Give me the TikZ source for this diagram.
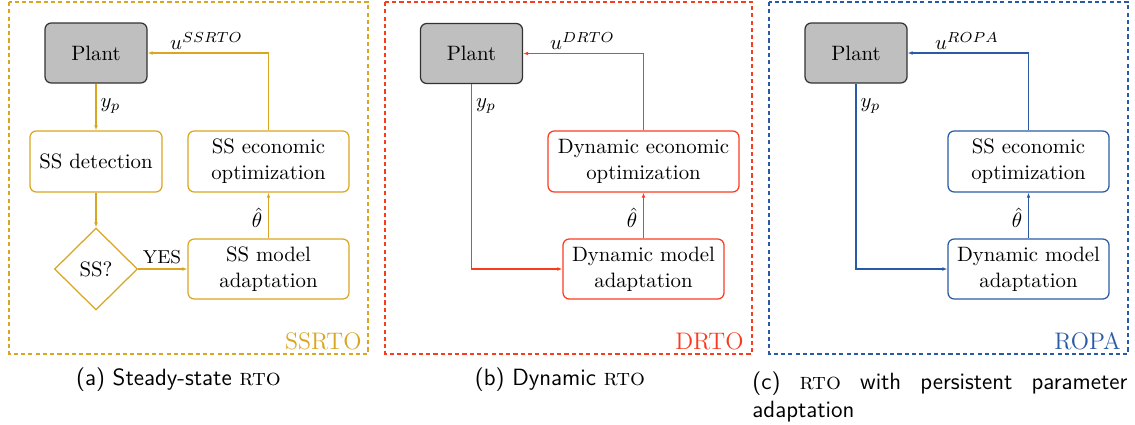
\documentclass[tikz,border=0pt]{standalone}
\usetikzlibrary{shapes.geometric,arrows.meta}
\definecolor{ssorange}{RGB}{218,165,32}
\definecolor{drred}{RGB}{250,60,30}
\definecolor{ropablue}{RGB}{40,90,165}
\begin{document}
\begin{tikzpicture}[x=0.4808pt,y=-0.4808pt,
  box/.style={draw, rounded corners=3pt, line width=0.6pt, align=center, inner sep=0pt,
              font=\fontsize{10}{12.5}\selectfont},
  plant/.style={draw=black!80, fill=black!25, rounded corners=3pt, line width=0.6pt,
                minimum width=49.04pt, minimum height=28.85pt, inner sep=0pt,
                font=\fontsize{10}{12}\selectfont},
  flow/.style={line width=0.6pt, -{Latex[length=2.4pt,width=1.8pt]}},
  frame/.style={line width=0.6pt, dash pattern=on 2pt off 1.5pt},
  tag/.style={font=\fontsize{11.5}{13}\selectfont, anchor=base east, inner sep=0pt},
  lbl/.style={inner sep=0pt, font=\fontsize{10}{12}\selectfont},
  subcap/.style={font=\sffamily\fontsize{11.3}{13.5}\selectfont, inner sep=0pt},
]
\useasboundingbox (0,0) rectangle (1135,424);

% ---------------- (a) steady-state RTO ----------------
\begin{scope}[color=ssorange]
  \draw[frame] (9,2) rectangle (368,354);
  \node[plant, text=black] (plant1) at (96,53) {Plant};
  \node[box, text=black, minimum width=63.47pt, minimum height=29.33pt] (det1) at (96,161.5) {SS detection};
  \node[box, text=black, minimum width=77.41pt, minimum height=29.33pt] (opt1) at (268.5,161.5) {SS economic\\optimization};
  \node[draw, diamond, line width=0.6pt, text=black, inner sep=0pt, minimum width=39.9pt, minimum height=39.4pt,
        font=\fontsize{10}{12}\selectfont] (dia1) at (96,269) {SS?};
  \node[box, text=black, minimum width=77.41pt, minimum height=28.85pt] (mod1) at (268.5,269) {SS model\\adaptation};
  \draw[flow] (plant1) -- (det1);
  \draw[flow] (det1) -- (dia1);
  \draw[flow] (dia1) -- (mod1);
  \draw[flow] (mod1) -- (opt1);
  \draw[flow] (opt1.north) |- (plant1.east);
  \node[lbl, text=black] (u1) at (206.5,41) {$u^{SSRTO}$};
  \node[lbl, text=black] (y1) at (110.5,106) {$y_p$};
  \node[lbl, text=black] (th1) at (257,218) {$\hat{\theta}$};
  \node[lbl, text=black, font=\fontsize{9}{11}\selectfont] (yes1) at (162,257.5) {YES};
  \node[tag] (t1) at (362,349) {SSRTO};
\end{scope}

% ---------------- (b) dynamic RTO ----------------
\begin{scope}[color=drred]
  \draw[frame] (385,2) rectangle (752,354);
  \node[plant, text=black] (plant2) at (471.5,53.5) {Plant};
  \node[box, text=black, minimum width=91.83pt, minimum height=29.33pt] (opt2) at (643.5,161.5) {Dynamic economic\\optimization};
  \node[box, text=black, minimum width=77.41pt, minimum height=28.85pt] (mod2) at (643.5,269) {Dynamic model\\adaptation};
  \draw[flow] (plant2.south) |- (mod2.west);
  \draw[flow] (mod2) -- (opt2);
  \draw[flow] (opt2.north) |- (plant2.east);
  \node[lbl, text=black] (u2) at (582.5,41) {$u^{DRTO}$};
  \node[lbl, text=black] (y2) at (486,106) {$y_p$};
  \node[lbl, text=black] (th2) at (632,218) {$\hat{\theta}$};
  \node[tag] (t2) at (744,349) {DRTO};
\end{scope}

% ---------------- (c) RTO with persistent parameter adaptation ----------------
\begin{scope}[color=ropablue]
  \draw[frame] (769,2) rectangle (1128,354);
  \node[plant, text=black] (plant3) at (856,53) {Plant};
  \node[box, text=black, minimum width=77.41pt, minimum height=29.33pt] (opt3) at (1028.5,161.5) {SS economic\\optimization};
  \node[box, text=black, minimum width=77.41pt, minimum height=28.85pt] (mod3) at (1028.5,269) {Dynamic model\\adaptation};
  \draw[flow] (plant3.south) |- (mod3.west);
  \draw[flow] (mod3) -- (opt3);
  \draw[flow] (opt3.north) |- (plant3.east);
  \node[lbl, text=black] (u3) at (967,41) {$u^{ROPA}$};
  \node[lbl, text=black] (y3) at (870.5,106) {$y_p$};
  \node[lbl, text=black] (th3) at (1017,218) {$\hat{\theta}$};
  \node[tag] (t3) at (1121,349) {ROPA};
\end{scope}

% ---------------- captions ----------------
\node[subcap] (capa) at (178.5,380) {(a) Steady-state \textrm{\textsc{rto}}};
\node[subcap] (capb) at (560,380) {(b) Dynamic \textrm{\textsc{rto}}};
\node[subcap, anchor=north west, text width=180.3pt, align=justify] (capc) at (752,371)
  {\hyphenpenalty=10000\exhyphenpenalty=10000
   (c) \textrm{\textsc{rto}} with persistent parameter adaptation};
\end{tikzpicture}
\end{document}
